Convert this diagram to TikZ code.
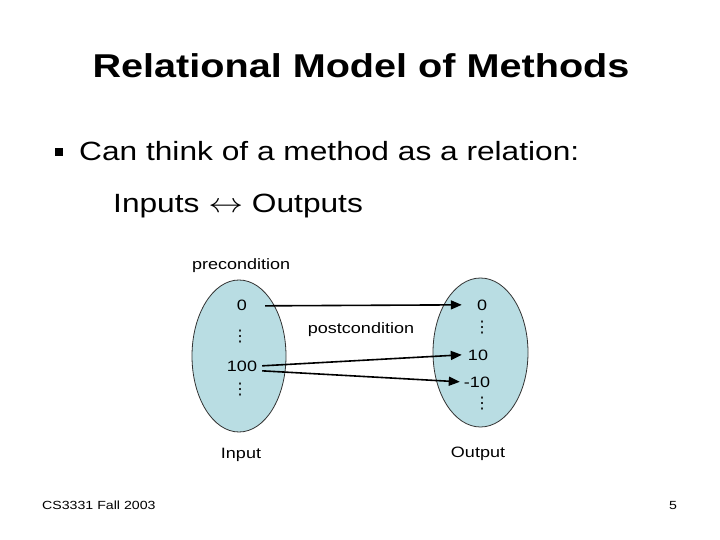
\documentclass[tikz,border=0pt]{standalone}
\usepackage{fontspec}
\setmainfont{Liberation Sans}[FakeStretch=1.2]
\newfontfamily\dvfont{DejaVu Sans}
\usetikzlibrary{arrows.meta,calc,shapes.geometric}
\definecolor{setfill}{RGB}{185,221,227}
\tikzset{
  settext/.style={font=\fontsize{15}{18}\selectfont, inner sep=0pt, anchor=base},
  dotstext/.style={font=\dvfont\fontsize{16}{18}\selectfont, inner sep=0pt, anchor=center},
  setell/.style={ellipse, draw=black!80, line width=0.8pt, fill=setfill, inner sep=0pt},
  maparrow/.style={line width=1.6pt, -{Triangle[length=11pt,width=9pt]}},
}
\begin{document}
\begin{tikzpicture}[x=1pt,y=-1pt]
\useasboundingbox[fill=white] (0,0) rectangle (720,540);
% title
\node[font=\fontsize{33}{40}\selectfont\bfseries, inner sep=0pt, anchor=base] (title) at (361,78) {Relational Model of Methods};
% bullet
\node[fill=black, minimum size=8pt, inner sep=0pt] (bullet) at (59,152) {};
\node[font=\fontsize{26.4}{32}\selectfont, inner sep=0pt, anchor=base west] (line1) at (79,161) {Can think of a method as a relation:};
\node[font=\fontsize{26.4}{32}\selectfont, inner sep=0pt, anchor=base west] (line2) at (113,212) {Inputs \scalebox{1.4}[1.1]{$\leftrightarrow$} Outputs};
% sets
\node[setell, minimum width=94pt, minimum height=152pt] (inset) at (239,356) {};
\node[setell, minimum width=95pt, minimum height=149pt] (outset) at (480.5,352.5) {};
% labels
\node[settext, anchor=base west] (pre) at (192,269) {precondition};
\node[settext] (post) at (361,333) {postcondition};
\node[settext] (inlab) at (241,458) {Input};
\node[settext] (outlab) at (478,457) {Output};
% input values
\node[settext] (in0) at (242,310) {0};
\node[dotstext] (indots1) at (240,337) {⋮};
\node[settext] (in100) at (242,371) {100};
\node[dotstext] (indots2) at (240,390) {⋮};
% output values
\node[settext] (out0) at (482,310) {0};
\node[dotstext] (outdots1) at (482,328) {⋮};
\node[settext] (out10) at (478,360) {10};
\node[settext] (outm10) at (477,387) {-10};
\node[dotstext] (outdots2) at (482,404) {⋮};
% arrows
\draw[maparrow] ($(in0.east)+(18,1)$) -- ($(out0.west)+(-15,0)$);
\draw[maparrow] ($(in100.east)+(5,0)$) -- ($(out10.west)+(-6,0)$);
\draw[maparrow] ($(in100.east)+(5,5)$) -- ($(outm10.west)+(-4,0)$);
% footer
\node[font=\fontsize{11.8}{14}\selectfont, inner sep=0pt, anchor=base west] (foot) at (42,509) {CS3331 Fall 2003};
\node[font=\fontsize{11.8}{14}\selectfont, inner sep=0pt, anchor=base] (page) at (673,509) {5};
\end{tikzpicture}
\end{document}
